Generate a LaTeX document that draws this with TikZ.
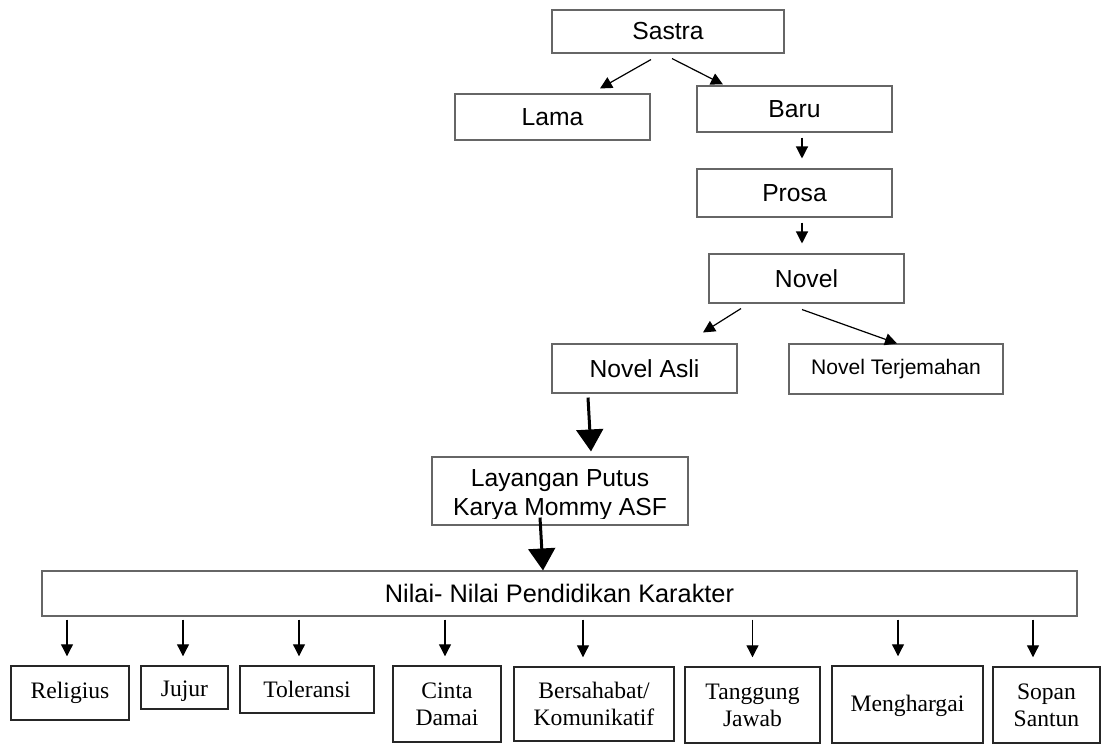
\documentclass[tikz,border=0pt]{standalone}
\usepackage{fontspec}
\setmainfont{Liberation Serif}
\setsansfont{Liberation Sans}
\usetikzlibrary{arrows.meta,calc}

\begin{document}
\begin{tikzpicture}[x=0.75pt, y=-0.75pt,
  kotak/.style={draw=black!60, line width=0.8pt, inner sep=0pt, font=\sffamily\fontsize{18.5}{22}\selectfont},
  kotakbawah/.style={draw=black!85, line width=1.1pt, inner sep=0pt, align=center, font=\fontsize{17.7}{20.25}\selectfont},
  judul/.style={inner sep=0pt, font=\sffamily\fontsize{18.5}{22}\selectfont},
  panah/.style={-{Triangle[length=9pt,width=9pt]}, line width=0.9pt},
  panahtebal/.style={-{Triangle[length=16.5pt,width=20pt]}, line width=2.25pt}]
\useasboundingbox (0,0) rectangle (1101,744);
% Sastra sampai Novel
\node[kotak, minimum width=174pt, minimum height=32.25pt] (sastra) at (668,31.5) {Sastra};
\node[kotak, minimum width=146.25pt, minimum height=34.5pt] (lama) at (552.5,117) {Lama};
\node[kotak, minimum width=146.25pt, minimum height=34.5pt] (baru) at (794.5,109) {Baru};
\node[kotak, minimum width=146.25pt, minimum height=36pt] (prosa) at (794.5,193) {Prosa};
\node[kotak, minimum width=146.25pt, minimum height=36.75pt] (novel) at (806.5,278.5) {Novel};
\node[kotak, minimum width=138.75pt, minimum height=36.75pt] (asli) at (644.5,368.5) {Novel Asli};
\node[kotak, minimum width=160.5pt, minimum height=37.5pt, font=\sffamily\fontsize{15.8}{19}\selectfont] (terjemahan) at (896,369) {Novel Terjemahan};
\draw[panah] ($(sastra.south)+(-17,6)$) -- ($(lama.north)+(47.5,-5)$);
\draw[panah] ($(sastra.south)+(4,5)$) -- ($(baru.north)+(-71.5,-1)$);
\draw[panah] ($(baru.south)+(7.5,5)$) -- ($(prosa.north)+(7.5,-10)$);
\draw[panah] ($(prosa.south)+(7.5,5)$) -- ($(novel.north)+(-4.5,-10)$);
\draw[panah] ($(novel.south)+(-65.5,5)$) -- ($(asli.north)+(58.5,-11)$);
\draw[panah] ($(novel.south)+(-4.5,6)$) -- ($(terjemahan.north)+(1,0)$);
% Layangan Putus
\node[kotak, minimum width=192pt, minimum height=51pt] (layangan) at (560,491) {};
\begin{scope}
\clip (layangan.north west) rectangle ($(layangan.south east)+(0,-7)$);
\node[judul, anchor=base] (judul1) at ($(layangan.north)+(0,30)$) {Layangan Putus};
\node[judul, anchor=base] (judul2) at ($(judul1.base)+(0,29)$) {Karya Mommy ASF};
\end{scope}
\draw[panahtebal] ($(asli.south)+(-56.5,4)$) -- ($(layangan.north)+(31,-5)$);
% Nilai pendidikan karakter
\node[kotak, minimum width=776.25pt, minimum height=33.75pt, font=\sffamily\fontsize{19}{22}\selectfont] (nilai) at (559.5,593.5) {Nilai- Nilai Pendidikan Karakter};
\draw[panahtebal] ($(layangan.south)+(-20,-8)$) -- ($(nilai.north)+(-16.5,0)$);
\node[kotakbawah, minimum width=88.5pt, minimum height=40.5pt] (religius) at (70,693) {Religius};
\node[kotakbawah, minimum width=65.25pt, minimum height=32.25pt, text height=14pt, text depth=0pt] (jujur) at (184.5,687.5) {Jujur};
\node[kotakbawah, minimum width=100.5pt, minimum height=35.25pt] (toleransi) at (307,689.5) {Toleransi};
\node[kotakbawah, minimum width=81pt, minimum height=57pt] (cinta) at (447,704) {Cinta\\Damai};
\node[kotakbawah, minimum width=120pt, minimum height=55.5pt] (bersahabat) at (594,704) {Bersahabat/\\Komunikatif};
\node[kotakbawah, minimum width=101.25pt, minimum height=57pt] (tanggung) at (752.5,705) {Tanggung\\Jawab};
\node[kotakbawah, minimum width=113.25pt, minimum height=57.75pt, text height=12pt, text depth=0.8pt] (menghargai) at (907.5,704.5) {Menghargai};
\node[kotakbawah, minimum width=80.25pt, minimum height=57pt] (sopan) at (1046.5,705) {Sopan\\Santun};
\draw[panah] ($(religius.north |- nilai.south)+(-3,3)$) -- ($(religius.north)+(-3,-9)$);
\draw[panah] ($(jujur.north |- nilai.south)+(-1.5,3)$) -- ($(jujur.north)+(-1.5,-9)$);
\draw[panah] ($(toleransi.north |- nilai.south)+(-8,3)$) -- ($(toleransi.north)+(-8,-9)$);
\draw[panah] ($(cinta.north |- nilai.south)+(-2,3)$) -- ($(cinta.north)+(-2,-9)$);
\draw[panah] ($(bersahabat.north |- nilai.south)+(-11,3)$) -- ($(bersahabat.north)+(-11,-9)$);
\draw[panah] ($(tanggung.north |- nilai.south)+(0,3)$) -- ($(tanggung.north)+(0,-9)$);
\draw[panah] ($(menghargai.north |- nilai.south)+(-9.5,3)$) -- ($(menghargai.north)+(-9.5,-9)$);
\draw[panah] ($(sopan.north |- nilai.south)+(-13.5,3)$) -- ($(sopan.north)+(-13.5,-9)$);
\end{tikzpicture}
\end{document}
